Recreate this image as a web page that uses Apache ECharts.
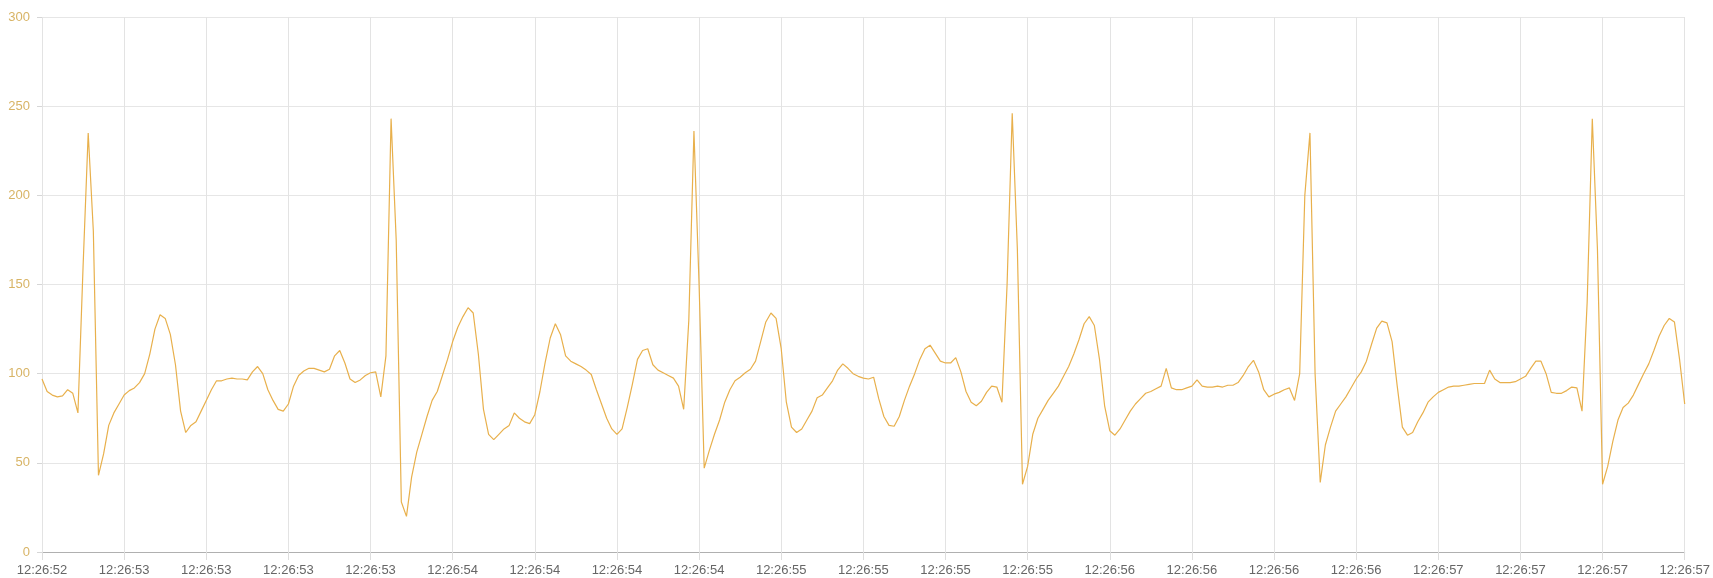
<!DOCTYPE html>
<html>
<head>
<meta charset="utf-8">
<title>ECG</title>
<script src="https://cdn.jsdelivr.net/npm/echarts@6/dist/echarts.min.js"></script>
<style>
  html, body { margin: 0; padding: 0; background: #fff; }
  #chart { width: 1713px; height: 578px; }
</style>
</head>
<body>
<div id="chart"></div>
<script>
// x轴刻度文字 (每个刻度之间16个采样点)
var tickLabels = [
  '12:26:52', '12:26:53', '12:26:53', '12:26:53', '12:26:53',
  '12:26:54', '12:26:54', '12:26:54', '12:26:54',
  '12:26:55', '12:26:55', '12:26:55', '12:26:55',
  '12:26:56', '12:26:56', '12:26:56', '12:26:56',
  '12:26:57', '12:26:57', '12:26:57', '12:26:57'
];
var pointsPerTick = 16;

// 心电采样值, 一行 = 一个刻度区间
var ecgValues = [
  97, 90, 88, 87, 87.5, 91, 89, 78, 160, 235, 180, 43, 55, 71, 78, 83,
  88, 90.5, 92, 95, 100, 111, 125, 133, 131, 122, 105, 79, 67, 71, 73, 79,
  85, 91, 96, 96, 97, 97.5, 97, 97, 96.5, 101, 104, 100, 91, 85, 80, 79,
  83, 93, 99, 101.5, 103, 103, 102, 101, 102.5, 110, 113, 106, 97, 95, 96.5, 99,
  100.5, 101, 87, 110, 243, 175, 28, 20, 42, 56, 66, 76, 85, 90, 99, 108,
  118, 126, 132, 137, 134, 111, 80, 66, 63, 66, 69, 71, 78, 75, 73, 72,
  77, 90, 106, 120, 128, 122, 110, 107, 105.5, 104, 102, 99.5, 91, 83, 75, 69,
  66, 69, 81, 94, 108, 113, 114, 105, 102, 100.5, 99, 97.5, 93, 80, 130, 236,
  150, 47, 57, 66, 74, 84, 91, 96, 98, 100.5, 102.5, 107, 118, 129, 134, 131,
  114, 84, 70, 67, 69, 74, 79, 86.5, 88, 92, 96, 102, 105.5, 103, 100, 98.5,
  97.5, 97, 98, 86, 76, 71, 70.5, 76, 85, 93, 100, 108, 114, 116, 111.5, 107,
  106, 106, 109, 101, 90, 84, 82, 84.5, 89.5, 93, 92.5, 84, 150, 246, 170, 38,
  48, 66, 75, 80, 85, 89, 93, 98.5, 104, 111, 119, 128, 132, 127, 108, 82,
  68, 65.5, 69, 74, 79, 83, 86, 89, 90, 91.5, 93, 103, 92, 91, 91, 92,
  93, 96.5, 93, 92.5, 92.5, 93, 92.5, 93.5, 93.5, 95, 99, 104, 107.5, 101, 91, 87,
  88.5, 89.5, 91, 92, 85, 100, 200, 235, 100, 39, 60, 70, 79, 83, 87, 92,
  97, 101, 107, 116.5, 125.5, 129.5, 128.5, 118, 93, 70, 65.5, 67, 73, 78, 84, 87,
  89.5, 91, 92.5, 93, 93, 93.5, 94, 94.5, 94.5, 94.5, 102, 97, 95, 95, 95, 95.5,
  97, 98.5, 103, 107, 107, 100, 89.5, 89, 89, 90.5, 92.5, 92, 79, 140, 243, 170,
  38, 48, 62, 74, 81, 83.5, 88, 94, 100, 105.5, 113, 121, 127, 131, 129, 108,
  83
];

// y轴范围
var yMin = 0;
var yMax = 300;
var yStep = 50;

// 每个采样点对应的时间(类目)
var categories = ecgValues.map(function (v, i) {
  return tickLabels[Math.floor(i / pointsPerTick)];
});

var myChart = echarts.init(document.getElementById('chart'), null, { renderer: 'canvas' });

var option = {
  animation: false,
  backgroundColor: '#fff',
  grid: {
    top: 17,
    left: 42,
    right: 23,
    bottom: 26
  },
  xAxis: {
    type: 'category',
    boundaryGap: false,
    data: categories,
    axisLine: {
      show: true,
      lineStyle: { color: '#b0b0b0', width: 1 }
    },
    axisTick: {
      show: true,
      interval: pointsPerTick - 1,
      length: 8,
      lineStyle: { color: '#dddddd' }
    },
    axisLabel: {
      interval: pointsPerTick - 1,
      color: '#666',
      fontFamily: 'Liberation Sans',
      fontSize: 13,
      margin: 12
    },
    splitLine: {
      show: true,
      interval: pointsPerTick - 1,
      lineStyle: { color: '#e3e3e3', width: 1 }
    }
  },
  yAxis: {
    type: 'value',
    min: yMin,
    max: yMax,
    interval: yStep,
    axisLine: { show: false },
    axisTick: {
      show: true,
      length: 5,
      lineStyle: { color: '#d6d6d6' }
    },
    axisLabel: {
      color: '#d8b466',
      fontFamily: 'Liberation Sans',
      fontSize: 13,
      margin: 12
    },
    splitLine: {
      lineStyle: { color: '#e6e6e6', width: 1 }
    }
  },
  series: [
    {
      type: 'line',
      data: ecgValues,
      showSymbol: false,
      smooth: false,
      lineStyle: { color: '#e8b04c', width: 1.2 },
      itemStyle: { color: '#e8b04c' }
    }
  ]
};

myChart.setOption(option, true);
window.addEventListener('resize', function () {
  myChart.resize();
});
</script>
</body>
</html>
